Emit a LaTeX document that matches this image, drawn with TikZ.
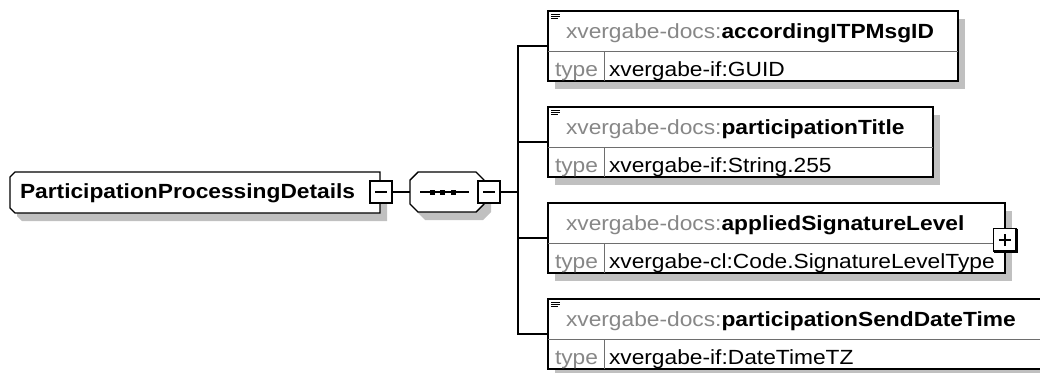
\documentclass[tikz,border=0pt]{standalone}
\usepackage{fontspec}
\setmainfont{Liberation Sans}[FakeStretch=1.11]
\usetikzlibrary{shadows}
\definecolor{xsdgray}{RGB}{135,135,135}
\definecolor{shadegray}{RGB}{192,192,192}
\definecolor{sepgray}{RGB}{110,110,110}

\begin{document}
\begin{tikzpicture}[
    x=1pt, y=-1pt,
    every node/.style={font=\fontsize{20.5}{23}\selectfont, inner sep=0pt, outer sep=0pt},
    boxshadow/.style={drop shadow={shadow xshift=7pt, shadow yshift=-8pt, fill=shadegray, opacity=1}},
    elem/.style={draw, line width=1.4pt, fill=white, minimum height=70pt, anchor=north west, boxshadow},
    outline/.style={draw, line width=1.4pt, fill=white, boxshadow},
    toggle/.style={draw, line width=1.4pt, fill=white, minimum size=22pt},
    rowsep/.style={draw=sepgray, line width=1pt},
    docicon/.style={line width=0.9pt},
    elemname/.style={anchor=base west},
    typekey/.style={anchor=base west, text=xsdgray},
    typeval/.style={anchor=base west},
    conn/.style={line width=1.4pt}
]
\useasboundingbox (0,0) rectangle (1040,372);

% root element and sequence compositor
\path[outline] (15,172) -- (380,172) -- (380,213) -- (15,213) -- (10,208) -- (10,177) -- cycle;
\node[elemname] (ppd) at (20,198) {\textbf{ParticipationProcessingDetails}};
\node[toggle] (ppd-col) at (381,192) {};
\draw[line width=2.2pt] (ppd-col.north east) -- (ppd-col.south east) -- (ppd-col.south west);
\draw[line width=1.2pt] ([xshift=-6pt]ppd-col.center) -- ([xshift=6pt]ppd-col.center);

\path[outline] (418,172) -- (476,172) -- (484,180) -- (484,204) -- (476,212) -- (418,212) -- (410,204) -- (410,180) -- cycle;
\node[minimum width=74pt, minimum height=40pt] (seq) at (447,192) {};
\draw[line width=1.2pt] (420,192) -- (469,192);
\foreach \sx in {432,442,453}
    \fill (\sx-2.5,189.5) rectangle +(5,5);
\node[toggle] (seq-col) at (489,192) {};
\draw[line width=2.2pt] (seq-col.north east) -- (seq-col.south east) -- (seq-col.south west);
\draw[line width=1.2pt] ([xshift=-6pt]seq-col.center) -- ([xshift=6pt]seq-col.center);
\coordinate (fork) at (518,192);

% child elements
\node[elem, minimum width=410pt] (accid) at (548,11) {};
\draw[rowsep] (548,51) -- (958,51) (604,51) -- (604,81);
\node[elemname] (accid-name) at (566,38) {\textcolor{xsdgray}{xvergabe-docs:}\textbf{accordingITPMsgID}};
\node[typekey] (accid-key) at (555,76) {type};
\node[typeval] (accid-type) at (609,76) {xvergabe-if:GUID};
\draw[docicon] (551,14) -- (560,14) (551,16.2) -- (560,16.2) (551,18.4) -- (558,18.4);

\node[elem, minimum width=385pt] (ptitle) at (548,107) {};
\draw[rowsep] (548,147) -- (933,147) (604,147) -- (604,177);
\node[elemname] (ptitle-name) at (566,134) {\textcolor{xsdgray}{xvergabe-docs:}\textbf{participationTitle}};
\node[typekey] (ptitle-key) at (555,172) {type};
\node[typeval] (ptitle-type) at (609,172) {xvergabe-if:String.255};
\draw[docicon] (551,110) -- (560,110) (551,112.2) -- (560,112.2) (551,114.4) -- (558,114.4);

\node[elem, minimum width=457pt] (siglevel) at (548,203) {};
\draw[rowsep] (548,243) -- (1005,243) (604,243) -- (604,273);
\node[elemname] (siglevel-name) at (566,230) {\textcolor{xsdgray}{xvergabe-docs:}\textbf{appliedSignatureLevel}};
\node[typekey] (siglevel-key) at (555,268) {type};
\node[typeval] (siglevel-type) at (609,268) {xvergabe-cl:Code.SignatureLevelType};
\node[toggle, minimum size=23pt] (siglevel-exp) at (1005,240) {};
\draw[line width=2.2pt] (siglevel-exp.north east) -- (siglevel-exp.south east) -- (siglevel-exp.south west);
\draw[line width=1.2pt] ([xshift=-6pt]siglevel-exp.center) -- ([xshift=6pt]siglevel-exp.center)
    ([yshift=-6pt]siglevel-exp.center) -- ([yshift=6pt]siglevel-exp.center);

\node[elem, minimum width=500pt] (senddt) at (548,299) {};
\draw[rowsep] (548,339) -- (1048,339) (604,339) -- (604,369);
\node[elemname] (senddt-name) at (566,326) {\textcolor{xsdgray}{xvergabe-docs:}\textbf{participationSendDateTime}};
\node[typekey] (senddt-key) at (555,364) {type};
\node[typeval] (senddt-type) at (609,364) {xvergabe-if:DateTimeTZ};
\draw[docicon] (551,302) -- (560,302) (551,304.2) -- (560,304.2) (551,306.4) -- (558,306.4);

% connectors
\draw[conn] (ppd-col.east) -- (seq.west);
\draw[conn] (seq-col.east) -- (fork);
\foreach \child in {accid,ptitle,siglevel,senddt}
    \draw[conn] (fork) |- (\child.west);
\end{tikzpicture}
\end{document}
